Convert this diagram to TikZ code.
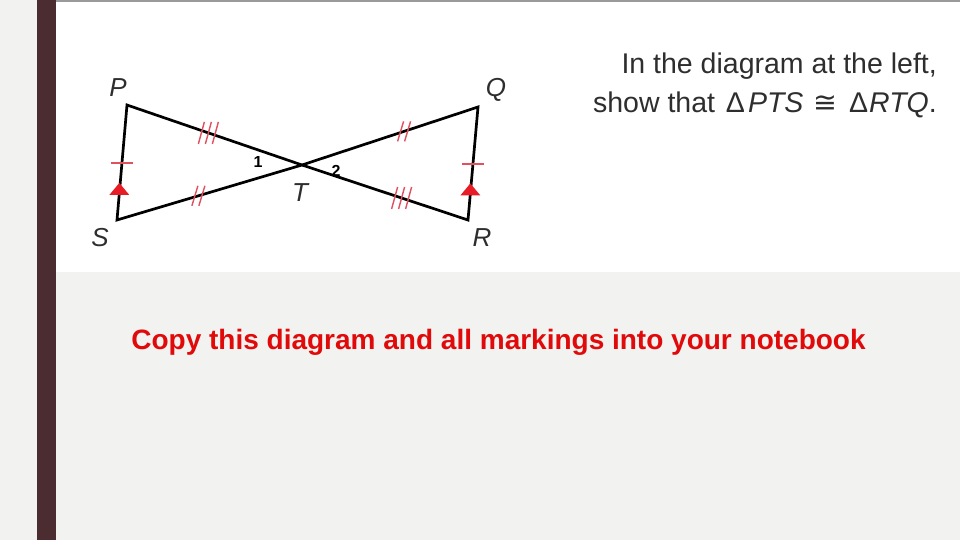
\documentclass[tikz,border=0pt]{standalone}
\usepackage{fontspec}
\setmainfont{Liberation Sans}
\newfontfamily\symfont{DejaVu Sans}
\usetikzlibrary{calc}
\definecolor{bgray}{HTML}{F2F2F0}
\definecolor{barc}{HTML}{4A2C31}
\definecolor{topline}{HTML}{9A9A9A}
\definecolor{tickred}{HTML}{E0505E}
\definecolor{arrred}{HTML}{E81C24}
\definecolor{txtred}{HTML}{E00A0A}
\definecolor{txtgray}{HTML}{2E2E2E}
\tikzset{
  seg/.style={line width=2.7pt, black},
  tickm/.style={line width=1.4pt, tickred},
  vlabel/.style={font=\fontsize{26}{28}\selectfont\itshape, text=txtgray, inner sep=0pt},
  anglabel/.style={font=\fontsize{16}{18}\selectfont\bfseries, inner sep=0pt},
  arrowtri/.style={fill=arrred, draw=none},
  instr/.style={anchor=base east, inner sep=0pt, text=txtgray, font=\fontsize{28.5}{30}\selectfont},
}
\begin{document}
\begin{tikzpicture}[x=1pt,y=-1pt]
\useasboundingbox (0,0) rectangle (960,540);
\fill[bgray] (0,0) rectangle (960,540);
\fill[white] (56,0) rectangle (960,272);
\fill[topline] (56,0) rectangle (960,2);
\fill[barc] (37,0) rectangle (56,540);
% vertices
\coordinate (P) at (127,105);
\coordinate (S) at (117,220);
\coordinate (T) at (302,165);
\coordinate (Q) at (478,107);
\coordinate (R) at (468,220);
% triangle sides
\draw[seg, line join=miter] (T) -- (P) -- (S) -- (T);
\draw[seg, line join=miter] (T) -- (Q) -- (R) -- (T);
% single ticks
\draw[tickm] ($(P)!0.505!(S)+(-11,0)$) -- ++(22,0);
\draw[tickm] ($(Q)!0.505!(R)+(-11,0)$) -- ++(22,0);
% arrows
\coordinate (a1) at ($(P)!0.765!(S)$);
\fill[arrowtri] ($(a1)+(0,-10)$) -- ($(a1)+(10,2)$) -- ($(a1)+(-10,2)$) -- cycle;
\coordinate (a2) at ($(Q)!0.765!(R)$);
\fill[arrowtri] ($(a2)+(0,-10)$) -- ($(a2)+(10,2)$) -- ($(a2)+(-10,2)$) -- cycle;
% triple ticks PT
\foreach \d in {-7,0,7} {
  \draw[tickm] ($(P)!0.465!(T)+(\d,0)+(3,-11)$) -- ++(-6,22);
}
% double ticks ST
\foreach \d in {-3.5,3.5} {
  \draw[tickm] ($(S)!0.44!(T)+(\d,0)+(3,-10)$) -- ++(-6,20);
}
% double ticks TQ
\foreach \d in {-3.5,3.5} {
  \draw[tickm] ($(T)!0.58!(Q)+(\d,0)+(3,-10)$) -- ++(-6,20);
}
% triple ticks TR
\foreach \d in {-7,0,7} {
  \draw[tickm] ($(T)!0.60!(R)+(\d,0)+(3,-11)$) -- ++(-6,22);
}
% vertex labels
\node[vlabel] (lP) at (118,88) {P};
\node[vlabel] (lQ) at (496,90) {Q};
\node[vlabel] (lS) at (100,238) {S};
\node[vlabel] (lT) at (300,193) {T};
\node[vlabel] (lR) at (482,238) {R};
% angle labels
\node[anglabel] (n1) at (258,162) {1};
\node[anglabel] (n2) at (336,171) {2};
% instruction text
\node[instr] (ln1) at (937,74) {In the diagram at the left,};
\node[instr] (ln2) at (937,113) {show that\ \hspace{3pt}Δ\hspace{3pt}\textit{PTS}\ \hspace{2pt}{\symfont ≅}\ \hspace{4pt}Δ\hspace{1pt}\textit{RTQ}.};
% red note
\node[anchor=base, inner sep=0pt, text=txtred, font=\fontsize{28}{30}\selectfont\bfseries] (note) at (498.5,349) {Copy this diagram and all markings into your notebook};
\end{tikzpicture}
\end{document}
